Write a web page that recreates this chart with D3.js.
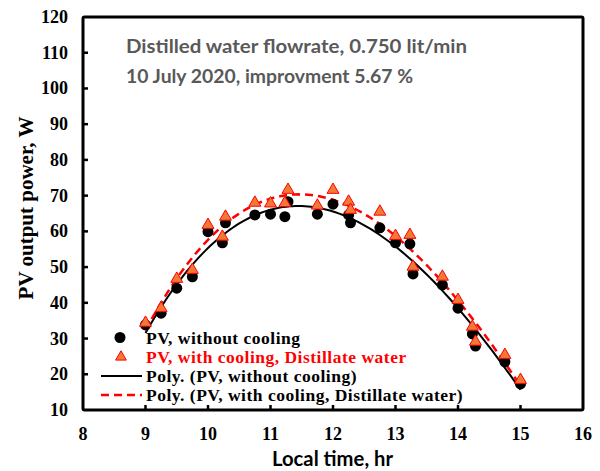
<!DOCTYPE html>
<html>
<head>
<meta charset="utf-8">
<script src="https://cdn.jsdelivr.net/npm/d3@7"></script>
<style>
  body { margin: 0; background: #fff; }
  .serif { font-family: "Liberation Serif", "Times New Roman", serif; font-weight: bold; }
  .sans { font-family: Lato, "Open Sans", sans-serif; font-weight: bold; }
</style>
</head>
<body>
<div id="content"></div>
<script>
// data
const times = [9.0, 9.25, 9.5, 9.75, 10.0, 10.23, 10.28, 10.75, 11.0, 11.23, 11.28, 11.75, 12.0, 12.25, 12.28, 12.75, 13.0, 13.23, 13.28, 13.75, 14.0, 14.23, 14.28, 14.75, 15.0];
const withoutCooling = [33.8, 37.1, 44.1, 47.3, 59.9, 56.8, 62.4, 64.6, 64.8, 64.1, 68.3, 64.8, 67.6, 64.6, 62.4, 61.0, 56.8, 56.5, 48.1, 45.0, 38.5, 31.3, 27.9, 23.5, 17.3];
const withCooling = [34.4, 38.5, 46.7, 49.2, 61.8, 58.5, 64.1, 68.0, 67.8, 67.9, 71.6, 67.2, 71.6, 68.3, 66.0, 65.5, 58.7, 59.0, 50.1, 47.3, 40.8, 33.3, 29.1, 25.4, 18.4];
const xTicks = [8, 9, 10, 11, 12, 13, 14, 15, 16];
const yTicks = [10, 20, 30, 40, 50, 60, 70, 80, 90, 100, 110, 120];
const legendLabels = ["PV, without cooling", "PV, with cooling, Distillate water", "Poly. (PV, without cooling)", "Poly. (PV, with cooling, Distillate water)"];
const noteLines = ["Distilled water flowrate, 0.750 lit/min", "10 July 2020, improvment 5.67 %"];

const width = 600;
const height = 471;

const svg = d3.select("#content")
  .append("svg")
  .attr("width", width)
  .attr("height", height);

const x = d3.scaleLinear().domain([8, 16]).range([83, 583]);
const y = d3.scaleLinear().domain([10, 120]).range([410, 17]);

// least squares polynomial fit, like the Excel trendline
function polyfit(xs, ys, order) {
  const n = order + 1;
  const A = [];
  for (let i = 0; i < n; i++) {
    A.push(new Array(n + 1).fill(0));
    for (let j = 0; j < n; j++) {
      A[i][j] = d3.sum(xs, v => Math.pow(v, i + j));
    }
    A[i][n] = d3.sum(xs, (v, k) => ys[k] * Math.pow(v, i));
  }
  for (let c = 0; c < n; c++) {
    let p = c;
    for (let r = c + 1; r < n; r++) if (Math.abs(A[r][c]) > Math.abs(A[p][c])) p = r;
    [A[c], A[p]] = [A[p], A[c]];
    for (let r = 0; r < n; r++) {
      if (r === c) continue;
      const f = A[r][c] / A[c][c];
      for (let k = c; k <= n; k++) A[r][k] -= f * A[c][k];
    }
  }
  const coef = A.map((row, i) => row[n] / row[i]);
  return t => coef.reduce((s, a, i) => s + a * Math.pow(t, i), 0);
}

const fitBlack = polyfit(times, withoutCooling, 3);
const fitRed = polyfit(times, withCooling, 3);
const tSamples = d3.range(0, 121).map(i => 9 + i * 6 / 120);

const line = d3.line().x(d => x(d[0])).y(d => y(d[1]));

// trend lines
svg.append("path")
  .attr("d", line(tSamples.map(t => [t, fitBlack(t)])))
  .attr("fill", "none")
  .attr("stroke", "#000")
  .attr("stroke-width", 2);

svg.append("path")
  .attr("d", line(tSamples.map(t => [t, fitRed(t)])))
  .attr("fill", "none")
  .attr("stroke", "#ff0000")
  .attr("stroke-width", 2.5)
  .attr("stroke-dasharray", "8,5");

// points
svg.selectAll("circle.pv")
  .data(times)
  .join("circle")
  .attr("class", "pv")
  .attr("cx", d => x(d))
  .attr("cy", (d, i) => y(withoutCooling[i]))
  .attr("r", 5.5)
  .attr("fill", "#000");

const tri = d3.symbol().type(d3.symbolTriangle).size(62);
svg.selectAll("path.cool")
  .data(times)
  .join("path")
  .attr("class", "cool")
  .attr("d", tri)
  .attr("transform", (d, i) => `translate(${x(d)},${y(withCooling[i])})`)
  .attr("fill", "#f07a35")
  .attr("stroke", "#ff0000")
  .attr("stroke-width", 1);

// frame and ticks
svg.append("rect")
  .attr("x", x(8)).attr("y", y(120))
  .attr("width", x(16) - x(8)).attr("height", y(10) - y(120))
  .attr("fill", "none")
  .attr("stroke", "#000")
  .attr("stroke-width", 3)
  .attr("rx", 1.5);

svg.selectAll("line.xt")
  .data(xTicks.slice(1, -1))
  .join("line")
  .attr("class", "xt")
  .attr("x1", d => x(d)).attr("x2", d => x(d))
  .attr("y1", y(10)).attr("y2", y(10) - 5)
  .attr("stroke", "#000").attr("stroke-width", 2.5);

svg.selectAll("line.yt")
  .data(yTicks.slice(1, -1))
  .join("line")
  .attr("class", "yt")
  .attr("x1", x(8)).attr("x2", x(8) + 5)
  .attr("y1", d => y(d)).attr("y2", d => y(d))
  .attr("stroke", "#000").attr("stroke-width", 2.5);

svg.selectAll("text.xl")
  .data(xTicks)
  .join("text")
  .attr("class", "xl serif")
  .attr("x", d => x(d))
  .attr("y", 440)
  .attr("text-anchor", "middle")
  .attr("font-size", 18)
  .text(d => d);

svg.selectAll("text.yl")
  .data(yTicks)
  .join("text")
  .attr("class", "yl serif")
  .attr("x", 68)
  .attr("y", d => y(d) + 6)
  .attr("text-anchor", "end")
  .attr("font-size", 18)
  .text(d => d);

// axis titles
svg.append("text")
  .attr("class", "sans")
  .attr("x", 272)
  .attr("y", 466)
  .attr("font-size", 20)
  .attr("textLength", 121)
  .attr("lengthAdjust", "spacingAndGlyphs")
  .text("Local time, hr");

svg.append("text")
  .attr("class", "serif")
  .attr("transform", "translate(33,208) rotate(-90)")
  .attr("text-anchor", "middle")
  .attr("font-size", 21)
  .text("PV output power, W");

// note
const noteWidths = [341, 287];
svg.selectAll("text.note")
  .data(noteLines)
  .join("text")
  .attr("class", "note sans")
  .attr("x", 126)
  .attr("y", (d, i) => 53 + i * 30)
  .attr("fill", "#595959")
  .attr("font-size", 19)
  .attr("textLength", (d, i) => noteWidths[i])
  .attr("lengthAdjust", "spacingAndGlyphs")
  .text(d => d);

// legend
const legY = [337.5, 357, 376, 395];
const leg = svg.append("g");
leg.append("circle").attr("cx", 120).attr("cy", legY[0]).attr("r", 5.5).attr("fill", "#000");
leg.append("path").attr("d", d3.symbol().type(d3.symbolTriangle).size(50))
  .attr("transform", `translate(121,${legY[1]})`)
  .attr("fill", "#f07a35").attr("stroke", "#ff0000").attr("stroke-width", 1);
leg.append("line").attr("x1", 101).attr("x2", 142).attr("y1", legY[2]).attr("y2", legY[2])
  .attr("stroke", "#000").attr("stroke-width", 2);
leg.append("line").attr("x1", 101).attr("x2", 142).attr("y1", legY[3]).attr("y2", legY[3])
  .attr("stroke", "#ff0000").attr("stroke-width", 2.5).attr("stroke-dasharray", "8,5");
leg.selectAll("text")
  .data(legendLabels)
  .join("text")
  .attr("class", "serif")
  .attr("x", 146)
  .attr("y", (d, i) => legY[i] + 6)
  .attr("fill", (d, i) => i === 1 ? "#ff0000" : "#000")
  .attr("font-size", 17.5)
  .attr("letter-spacing", 0.5)
  .text(d => d);
</script>
</body>
</html>
